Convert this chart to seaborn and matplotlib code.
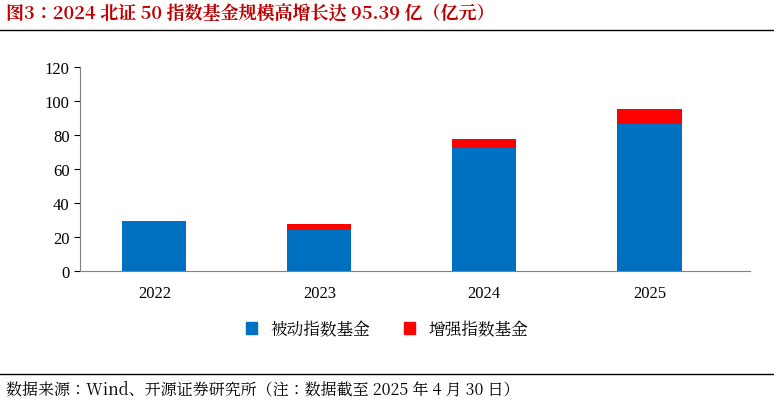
import matplotlib
matplotlib.use("Agg")
import matplotlib.pyplot as plt
import seaborn as sns
from matplotlib.patches import Patch
from matplotlib.lines import Line2D
from matplotlib import font_manager as fm

years = ["2022", "2023", "2024", "2025"]
passive = [29.5, 24.0, 72.5, 86.5]
enhanced = [0.0, 3.5, 5.2, 8.89]
yticks = [0, 20, 40, 60, 80, 100, 120]

cjk_name = None
for f in fm.fontManager.ttflist:
    if "CJK" in f.name and ("SC" in f.name or cjk_name is None):
        cjk_name = f.name
        if "SC" in f.name:
            break
if cjk_name is None:
    for p in fm.findSystemFonts():
        if "CJK" in p or "cjk" in p.lower():
            fm.fontManager.addfont(p)
            cjk_name = fm.FontProperties(fname=p).get_name()
            break

plt.rcParams["font.family"] = ["Liberation Serif", cjk_name, "DejaVu Sans"]
fig = plt.figure(figsize=(7.74, 4.06), dpi=100)
ax = fig.add_axes([80/774, 1-272/406, 670/774, 204/406])

sns.barplot(x=years, y=passive, color="#0070C0", width=0.39, ax=ax, saturation=1)
sns.barplot(x=years, y=enhanced, bottom=passive, color="#FF0000", width=0.39, ax=ax, saturation=1)

ax.set_xlim(-0.45, 3.61)
ax.set_ylim(0, 120)
ax.set_yticks(yticks)
ax.tick_params(axis="both", labelsize=12, length=4, direction="out")
ax.tick_params(axis="x", length=0, pad=10)
for s in ["top", "right"]:
    ax.spines[s].set_visible(False)
ax.spines["left"].set_color("#808080")
ax.spines["bottom"].set_color("#808080")

handles = [Patch(color="#0070C0", label="被动指数基金"), Patch(color="#FF0000", label="增强指数基金")]
fig.legend(handles=handles, loc="center", bbox_to_anchor=(0.5, 1-330/406), ncol=2, frameon=False,
           prop={"family": cjk_name, "size": 12}, handlelength=0.7, handleheight=0.7, columnspacing=2)

fig.text(0.008, 1-15/406, "图3：2024 北证 50 指数基金规模高增长达 95.39 亿（亿元）", color="#C00000",
         fontsize=13, fontweight="bold", va="center", ha="left", family=cjk_name)
fig.add_artist(Line2D([0, 1], [1-31/406]*2, color="black", lw=1))
fig.add_artist(Line2D([0, 1], [1-375/406]*2, color="black", lw=1))
fig.text(0.008, 1-390/406, "数据来源：Wind、开源证券研究所（注：数据截至 2025 年 4 月 30 日）",
         fontsize=11.5, va="center", ha="left", family=cjk_name)

fig.savefig("out.png", dpi=100)
